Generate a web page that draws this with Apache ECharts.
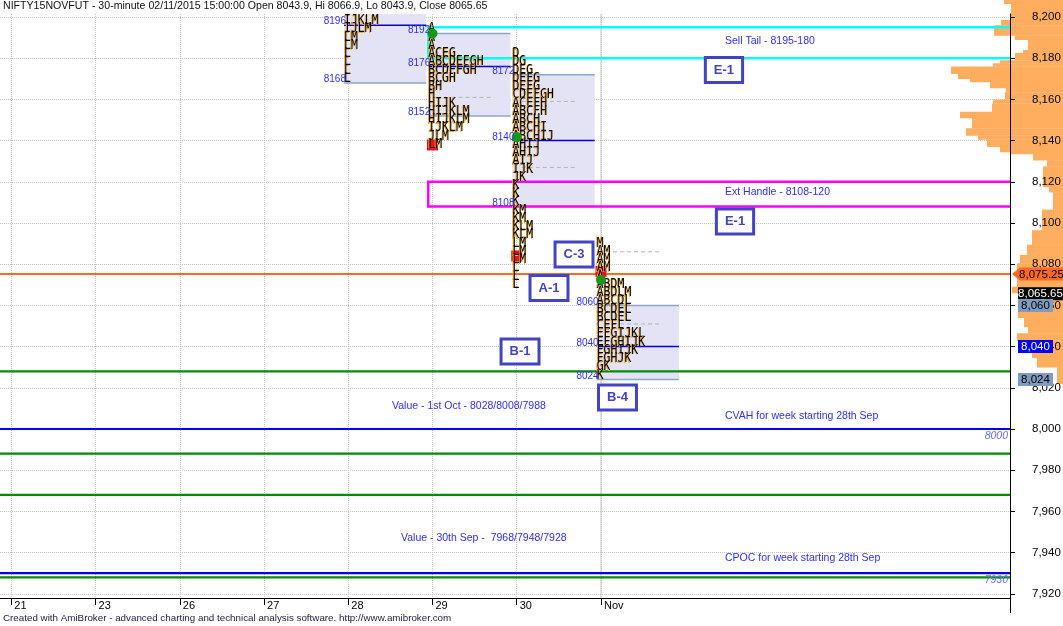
<!DOCTYPE html>
<html>
<head>
<meta charset="utf-8">
<title>NIFTY15NOVFUT - Market Profile</title>
<script src="https://cdn.jsdelivr.net/npm/echarts@6.0.0/dist/echarts.min.js"></script>
<style>
html,body{margin:0;padding:0;background:#ffffff;}
#chart{width:1063px;height:626px;}
</style>
</head>
<body>
<div id="chart"></div>
<script>
// ================= DATA =================
const titleText = 'NIFTY15NOVFUT - 30-minute 02/11/2015 15:00:00 Open 8043.9, Hi 8066.9, Lo 8043.9, Close 8065.65';
const footerText = 'Created with AmiBroker - advanced charting and technical analysis software. http://www.amibroker.com';

const dayLabels = ['21', '23', '26', '27', '28', '29', '30', 'Nov'];
const dayIndex = [0, 1, 2, 3, 4, 5, 6, 7];
const monthStartIndex = [7];
const priceTicks = [7920, 7940, 7960, 7980, 8000, 8020, 8040, 8060, 8080, 8100, 8120, 8140, 8160, 8180, 8200];

// TPO profiles: [price, letters]
const profileDay = [4, 5, 6, 7];
const tpoOct28 = [[8196, 'IJKLM'], [8192, 'IJLM'], [8188, 'LM'], [8184, 'LM'], [8180, 'L'], [8176, 'L'], [8172, 'L'], [8168, 'L']];
const tpoOct29 = [[8192, 'A'], [8188, 'A'], [8184, 'A'], [8180, 'ACEG'], [8176, 'ABCDEFGH'], [8172, 'BCDEFGH'], [8168, 'BCGH'], [8164, 'BH'], [8160, 'H'], [8156, 'HIJK'], [8152, 'HIJKLM'], [8148, 'HIJKLM'], [8144, 'IJKLM'], [8140, 'JLM'], [8136, 'LM']];
const tpoOct30 = [[8180, 'D'], [8176, 'DG'], [8172, 'DEG'], [8168, 'DEFG'], [8164, 'DEFG'], [8160, 'CDEFGH'], [8156, 'ACEFH'], [8152, 'ABCFH'], [8148, 'ABCH'], [8144, 'ABCHI'], [8140, 'ABCHIJ'], [8136, 'AHIJ'], [8132, 'AHIJ'], [8128, 'AIJ'], [8124, 'IJK'], [8120, 'JK'], [8116, 'K'], [8112, 'K'], [8108, 'K'], [8104, 'KM'], [8100, 'KM'], [8096, 'KLM'], [8092, 'KLM'], [8088, 'LM'], [8084, 'LM'], [8080, 'LM'], [8076, 'L'], [8072, 'L'], [8068, 'L']];
const tpoNov02 = [[8088, 'M'], [8084, 'AM'], [8080, 'AM'], [8076, 'AM'], [8072, 'A'], [8068, 'ABDM'], [8064, 'ABDLM'], [8060, 'ABCDL'], [8056, 'BCDEL'], [8052, 'BCDEL'], [8048, 'CEFL'], [8044, 'EFGIJKL'], [8040, 'EFGHIJK'], [8036, 'FGHIJK'], [8032, 'FGHJK'], [8028, 'GK'], [8024, 'K']];

const vaHigh = [null, 8192, 8172, 8060];
const vaLow = [8168, 8152, 8108, 8024];
const pocPrice = [8196, 8176, 8140, 8040];
const vaLabelHigh = [null, 8192, 8172, 8060];
const ibHigh = [null, 8195, 8159, 8086];
const ibLow = [null, 8161, 8127, 8051];
const openMark = [null, 8192, 8141.7, 8072.3];
const closeMark = [null, 8137.9, 8084, 8076.5];

// reference zones / levels
const zoneStartDay = 5;
const sellTail = [8180, 8195];
const extHandle = [8108, 8120];
const weekValueLevels = [8028, 7988, 7968, 7928];
const weekLevels = [8000, 7930];
const prevClose = 8075.25;

// price tags on the axis
const tagValues = [8075.25, 8065.65, 8060, 8040, 8024];

// volume profile (price from, price to, size)
const volLow = [8206.5, 8198.5, 8196, 8191, 8189, 8184, 8182.5, 8179, 8177.5, 8176, 8172.5, 8170, 8168.5, 8165.5, 8163.5, 8160, 8158, 8154, 8151, 8146, 8142.5, 8140.5, 8137, 8134.5, 8133.5, 8130.5, 8127.5, 8117.5, 8115, 8106.5, 8096.5, 8089.5, 8084.5, 8080.5, 8069, 8066, 8062.5, 8054, 8049.5, 8046.5, 8043, 8037, 8034.5, 8030, 8022];
const volHigh = [8210, 8206.5, 8198.5, 8196, 8191, 8189, 8184, 8182.5, 8179, 8177.5, 8176, 8172.5, 8170, 8168.5, 8165.5, 8163.5, 8160, 8158, 8154, 8151, 8146, 8142.5, 8140.5, 8137, 8134.5, 8133.5, 8130.5, 8127.5, 8117.5, 8115, 8106.5, 8096.5, 8089.5, 8084.5, 8080.5, 8069, 8066, 8062.5, 8054, 8049.5, 8046.5, 8043, 8037, 8034.5, 8030];
const volSize = [59, 52, 62, 69, 48, 35, 40, 48, 63, 70, 112, 105, 93, 73, 57, 58, 70, 71, 103, 91, 97, 85, 76, 63, 53, 30, 16, 20, 14, 10, 21, 31, 36, 43, 46, 51, 45, 45, 39, 35, 46, 45, 31, 26, 6];

// text notes: text, day position, price
const noteTexts = ['Sell Tail - 8195-180', 'Ext Handle - 8108-120', 'Value - 1st Oct - 8028/8008/7988', 'CVAH for week starting 28th Sep', 'Value - 30th Sep -  7968/7948/7928', 'CPOC for week starting 28th Sep'];
const noteDay = [8.472, 8.472, 4.519, 8.472, 4.626, 8.472];
const notePrice = [8188.5, 8115.0, 8011.2, 8006.3, 7947.1, 7937.4];

// boxed labels
const boxTexts = ['E-1', 'E-1', 'C-3', 'A-1', 'B-1', 'B-4'];
const boxDay = [8.460, 8.591, 6.680, 6.383, 6.039, 7.196];
const boxPrice = [8174.3, 8100.7, 8084.7, 8068.4, 8037.6, 8015.3];

// ================= LAYOUT / STYLE =================
const X_MIN = -0.1341, X_MAX = 11.8554;
const Y_MIN = 7917.96, Y_MAX = 8201.46, VOL_Y_MAX = 8208.25;
const VOL_W = 163;
const COL_OFF = -0.051, BOX_R = 0.925, IB_L = 0.06, IB_R = 0.70;
const FONT = 'Liberation Sans';
const TPO_FONT = '11.5px "DejaVu Sans Mono"';
const LABEL_BLUE = '#2e2eff';

function fmt(v) {
  const parts = String(v).split('.');
  return parts[0].replace(/\B(?=(\d{3})+(?!\d))/g, ',') + (parts[1] ? '.' + parts[1] : '');
}
function T(x, y, text, font, fill, align, valign, extra, props) {
  return Object.assign({type: 'text', x: x, y: y, style: Object.assign({text: text, font: font, fill: fill,
    align: align, verticalAlign: valign, textAlign: align, textVerticalAlign: valign}, extra || {})}, props || {});
}

const tpoByDay = [tpoOct28, tpoOct29, tpoOct30, tpoNov02];
const tpoRows = [];
tpoByDay.forEach((rows, i) => rows.forEach(r => tpoRows.push([profileDay[i], r[0], r[1]])));

const vaLabelRows = [];
profileDay.forEach((d, i) => {
  [vaLabelHigh[i], pocPrice[i], vaLow[i]].forEach(v => { if (v != null) vaLabelRows.push([d, v]); });
});

const tagStyles = [
  {bg: '#ff6a22', fg: '#000000', left: 2, width: 51, arrow: true},
  {bg: '#000000', fg: '#ffffff', left: 8, width: 45},
  {bg: '#7f9cc0', fg: '#000000', left: 8, width: 35},
  {bg: '#0000ff', fg: '#ffffff', left: 8, width: 35},
  {bg: '#7f9cc0', fg: '#000000', left: 8, width: 35}
];

function levelSeries(name, values, color, width, withLabel) {
  return {
    type: 'custom', name: name, xAxisIndex: 0, yAxisIndex: 0, clip: false, z: 2,
    data: values.map(v => [X_MIN, v]),
    renderItem(params, api) {
      const v = api.value(1);
      const a = api.coord([X_MIN, v]), b = api.coord([X_MAX, v]);
      const ch = [{type: 'line', shape: {x1: a[0], y1: a[1], x2: b[0], y2: a[1]}, style: {stroke: color, lineWidth: width}}];
      if (withLabel) ch.push(T(b[0] - 2, a[1] + 7, String(v), 'italic 10.5px ' + FONT, '#6b6bff', 'right', 'middle'));
      return {type: 'group', children: ch};
    }
  };
}

function zoneSeries(name, zone, color) {
  return {
    type: 'custom', name: name, xAxisIndex: 0, yAxisIndex: 0, clip: true, z: 2,
    data: [[zoneStartDay, zone[0], zone[1]]],
    renderItem(params, api) {
      const a = api.coord([api.value(0) + COL_OFF, api.value(2)]);
      const b = api.coord([X_MAX + 0.05, api.value(1)]);
      return {type: 'rect', shape: {x: a[0], y: a[1], width: b[0] - a[0], height: b[1] - a[1]},
        style: {fill: 'none', stroke: color, lineWidth: 2.5}};
    }
  };
}

const series = [
  // solid month separator
  {
    type: 'custom', name: 'month', xAxisIndex: 0, yAxisIndex: 0, clip: true, z: 1,
    data: monthStartIndex.map(d => [d, Y_MIN]),
    renderItem(params, api) {
      const a = api.coord([api.value(0), Y_MAX]), b = api.coord([api.value(0), Y_MIN]);
      return {type: 'line', shape: {x1: a[0], y1: a[1], x2: b[0], y2: b[1]}, style: {stroke: '#c6c6c6', lineWidth: 1}};
    }
  },
  // volume profile on right
  {
    type: 'custom', name: 'volume', xAxisIndex: 1, yAxisIndex: 2, clip: true, z: 1,
    data: volSize.map((s, i) => [s, volLow[i], volHigh[i]]),
    renderItem(params, api) {
      const a = api.coord([api.value(0), api.value(2)]);
      const b = api.coord([0, api.value(1)]);
      return {type: 'rect', shape: {x: a[0], y: a[1], width: b[0] - a[0], height: b[1] - a[1] + 0.3},
        style: {fill: '#ffad5e'}};
    }
  },
  // value area boxes
  {
    type: 'custom', name: 'valueArea', xAxisIndex: 0, yAxisIndex: 0, clip: true, z: 2,
    data: profileDay.map((d, i) => [d, vaHigh[i] == null ? Y_MAX + 1 : vaHigh[i], vaLow[i]]),
    renderItem(params, api) {
      const d = api.value(0);
      const a = api.coord([d + COL_OFF, api.value(1)]), b = api.coord([d + BOX_R, api.value(2)]);
      const ch = [{type: 'rect', shape: {x: a[0], y: a[1], width: b[0] - a[0], height: b[1] - a[1]}, style: {fill: '#e3e3f5'}}];
      if (vaHigh[params.dataIndex] != null) ch.push({type: 'line', shape: {x1: a[0], y1: a[1], x2: b[0], y2: a[1]}, style: {stroke: '#8ea4c8', lineWidth: 1.5}});
      ch.push({type: 'line', shape: {x1: a[0], y1: b[1], x2: b[0], y2: b[1]}, style: {stroke: '#8ea4c8', lineWidth: 1.5}});
      return {type: 'group', children: ch};
    }
  },
  // IB dashed lines
  {
    type: 'custom', name: 'ib', xAxisIndex: 0, yAxisIndex: 0, clip: true, z: 2,
    data: profileDay.map((d, i) => [d, ibHigh[i] == null ? NaN : ibHigh[i], ibLow[i] == null ? NaN : ibLow[i]]),
    renderItem(params, api) {
      const i = params.dataIndex;
      if (ibHigh[i] == null) return null;
      const d = profileDay[i];
      const ch = [ibHigh[i], ibLow[i]].map(v => {
        const a = api.coord([d + IB_L, v]), b = api.coord([d + IB_R, v]);
        return {type: 'line', shape: {x1: a[0], y1: a[1], x2: b[0], y2: a[1]}, style: {stroke: '#b4b4b4', lineWidth: 1, lineDash: [4, 3]}};
      });
      return {type: 'group', children: ch};
    }
  },
  // POC lines
  {
    type: 'custom', name: 'poc', xAxisIndex: 0, yAxisIndex: 0, clip: true, z: 2,
    data: profileDay.map((d, i) => [d, pocPrice[i]]),
    renderItem(params, api) {
      const d = api.value(0), v = api.value(1);
      const a = api.coord([d + COL_OFF, v]), b = api.coord([d + BOX_R, v]);
      return {type: 'line', shape: {x1: a[0], y1: a[1], x2: b[0], y2: a[1]}, style: {stroke: '#0000cc', lineWidth: 1.5}};
    }
  },
  zoneSeries('sellTail', sellTail, '#00ffff'),
  zoneSeries('extHandle', extHandle, '#ff00ff'),
  levelSeries('prevClose', [prevClose], '#ff6a22', 2, false),
  levelSeries('weekValue', weekValueLevels, '#008c00', 2.2, false),
  levelSeries('weekLevels', weekLevels, '#0000ee', 2.2, true),
  // close markers (red)
  {
    type: 'custom', name: 'closeMark', xAxisIndex: 0, yAxisIndex: 0, clip: true, z: 3,
    data: profileDay.map((d, i) => [d, closeMark[i] == null ? NaN : closeMark[i]]),
    renderItem(params, api) {
      if (closeMark[params.dataIndex] == null) return null;
      const p = api.coord([api.value(0), api.value(1)]);
      return {type: 'rect', shape: {x: p[0] - 5.5, y: p[1] - 5.5, width: 11, height: 11}, style: {fill: '#ee1111'}};
    }
  },
  // TPO letters
  {
    type: 'custom', name: 'tpo', xAxisIndex: 0, yAxisIndex: 0, clip: true, z: 4,
    data: tpoRows.map(r => [r[0], r[1]]),
    renderItem(params, api) {
      const row = tpoRows[params.dataIndex];
      const p = api.coord([row[0] + COL_OFF, row[1]]);
      const y = p[1] - 4.5;
      return {type: 'group', children: [
        T(p[0] - 0.9, y + 0.6, row[2], TPO_FONT, '#f4aa2a', 'left', 'middle', null, {scaleY: 1.16}),
        T(p[0], y, row[2], TPO_FONT, '#000000', 'left', 'middle', null, {scaleY: 1.16})
      ]};
    }
  },
  // open markers (green)
  {
    type: 'custom', name: 'openMark', xAxisIndex: 0, yAxisIndex: 0, clip: true, z: 5,
    data: profileDay.map((d, i) => [d, openMark[i] == null ? NaN : openMark[i]]),
    renderItem(params, api) {
      if (openMark[params.dataIndex] == null) return null;
      const p = api.coord([api.value(0), api.value(1)]);
      return {type: 'circle', shape: {cx: p[0], cy: p[1], r: 5}, style: {fill: '#149a14'}};
    }
  },
  // value-area price labels
  {
    type: 'custom', name: 'vaLabels', xAxisIndex: 0, yAxisIndex: 0, clip: true, z: 5,
    data: vaLabelRows,
    renderItem(params, api) {
      const v = api.value(1);
      const p = api.coord([api.value(0) + COL_OFF, v]);
      return T(p[0] + 2, p[1] - 3.5, String(v), '10px ' + FONT, LABEL_BLUE, 'right', 'middle');
    }
  },
  // notes
  {
    type: 'custom', name: 'notes', xAxisIndex: 0, yAxisIndex: 0, clip: false, z: 5,
    data: noteTexts.map((t, i) => [noteDay[i], notePrice[i]]),
    renderItem(params, api) {
      const p = api.coord([api.value(0), api.value(1)]);
      return T(p[0], p[1], noteTexts[params.dataIndex], '10.5px ' + FONT, LABEL_BLUE, 'left', 'middle');
    }
  },
  // boxed labels
  {
    type: 'custom', name: 'boxes', xAxisIndex: 0, yAxisIndex: 0, clip: false, z: 6,
    data: boxTexts.map((t, i) => [boxDay[i], boxPrice[i]]),
    renderItem(params, api) {
      const p = api.coord([api.value(0), api.value(1)]);
      return T(p[0], p[1], boxTexts[params.dataIndex], 'bold 13px ' + FONT, '#4343c6', 'center', 'middle',
        {backgroundColor: '#ffffff', borderColor: '#4343c6', borderWidth: 3, padding: [5, 7, 4, 7]});
    }
  },
  // axis price tags
  {
    type: 'custom', name: 'tags', xAxisIndex: 0, yAxisIndex: 0, clip: false, z: 8,
    data: tagValues.map(v => [X_MAX, v]),
    renderItem(params, api) {
      const st = tagStyles[params.dataIndex];
      const v = api.value(1);
      const p = api.coord([X_MAX, v]);
      const ax = p[0], y = p[1];
      const ch = [];
      let rx = ax + st.left, rw = st.width;
      if (st.arrow) {
        ch.push({type: 'polygon', shape: {points: [[ax + 2, y], [ax + 10, y - 6.5], [ax + 10, y + 6.5]]}, style: {fill: st.bg}});
        rx = ax + 10; rw = st.width - 8;
      }
      ch.push({type: 'rect', shape: {x: rx, y: y - 6.5, width: rw, height: 13}, style: {fill: st.bg}});
      ch.push(T(rx + rw / 2, y + 0.5, fmt(v), '11.5px ' + FONT, st.fg, 'center', 'middle'));
      return {type: 'group', children: ch};
    }
  },
  // y-axis line extension below the x axis
  {
    type: 'custom', name: 'axisExt', xAxisIndex: 0, yAxisIndex: 0, clip: false, z: 3,
    data: [[X_MAX, Y_MIN]],
    renderItem(params, api) {
      const p = api.coord([X_MAX, Y_MIN]);
      return {type: 'line', shape: {x1: p[0] + 0.5, y1: p[1], x2: p[0] + 0.5, y2: p[1] + 15}, style: {stroke: '#000', lineWidth: 1}};
    }
  }
];

const option = {
  animation: false,
  backgroundColor: '#ffffff',
  textStyle: {fontFamily: FONT},
  title: {
    text: titleText, left: 3, top: 1, padding: 0,
    textStyle: {fontSize: 10.6, fontWeight: 'normal', color: '#111111', fontFamily: FONT}
  },
  graphic: [{
    type: 'text', left: 3, top: 613,
    style: {text: footerText, font: '9.8px ' + FONT, fill: '#1b1b3a'}
  }],
  grid: [
    {left: 0, right: 53, top: 14, bottom: 28, outerBoundsMode: 'none', containLabel: false},
    {left: 1063 - VOL_W, right: 0, top: 0, bottom: 28, outerBoundsMode: 'none', containLabel: false}
  ],
  xAxis: [
    {
      type: 'value', gridIndex: 0, min: X_MIN, max: X_MAX,
      axisLine: {show: true, onZero: false, lineStyle: {color: '#000000', width: 1}},
      axisTick: {show: true, customValues: dayIndex, length: 7, lineStyle: {color: '#000000'}},
      axisLabel: {show: true, customValues: dayIndex, formatter: v => dayLabels[Math.round(v)] || '',
        align: 'left', padding: [0, 0, 0, 3], margin: 2, color: '#000000', fontSize: 11, fontFamily: FONT},
      splitLine: {show: true, lineStyle: {color: '#c4c4c4', type: 'dotted', width: 1}}
    },
    {type: 'value', gridIndex: 1, min: 0, max: VOL_W, inverse: true, show: false,
      axisLine: {show: false}, axisTick: {show: false}, axisLabel: {show: false}, splitLine: {show: false}}
  ],
  yAxis: [
    {
      type: 'value', gridIndex: 0, position: 'right', min: Y_MIN, max: Y_MAX, z: 6,
      axisLine: {show: true, onZero: false, lineStyle: {color: '#000000', width: 1}},
      axisTick: {show: true, customValues: priceTicks, length: 5, lineStyle: {color: '#000000'}},
      axisLabel: {show: true, customValues: priceTicks, formatter: v => fmt(v), margin: 22,
        color: '#000000', fontSize: 11.5, fontFamily: FONT},
      splitLine: {show: false}
    },
    {
      type: 'value', gridIndex: 0, position: 'left', min: Y_MIN, max: Y_MAX, z: 0,
      axisLine: {show: false}, axisTick: {show: false, customValues: priceTicks}, axisLabel: {show: false},
      splitLine: {show: true, lineStyle: {color: '#c4c4c4', type: 'dotted', width: 1}}
    },
    {type: 'value', gridIndex: 1, min: Y_MIN, max: VOL_Y_MAX, show: false,
      axisLine: {show: false}, axisTick: {show: false}, axisLabel: {show: false}, splitLine: {show: false}}
  ],
  series: series
};

const chart = echarts.init(document.getElementById('chart'), null, {renderer: 'canvas'});
chart.setOption(option);
</script>
</body>
</html>
